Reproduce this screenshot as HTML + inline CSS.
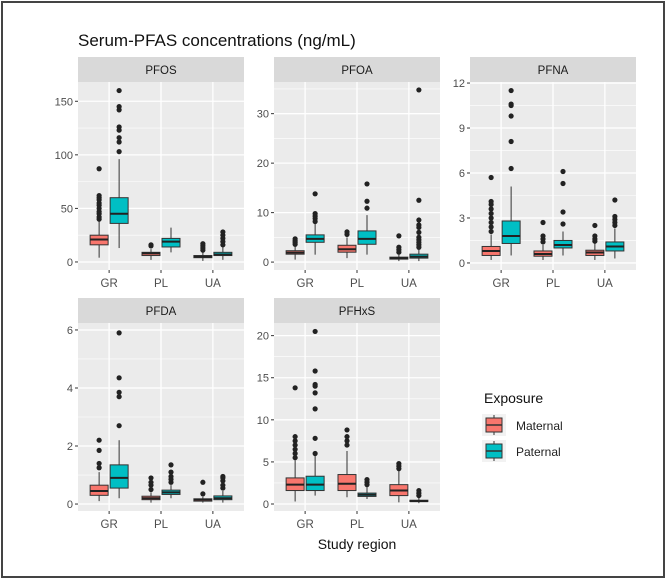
<!DOCTYPE html>
<html><head><meta charset="utf-8">
<style>
html,body{margin:0;padding:0;background:#fff;}
svg{display:block;font-family:"Liberation Sans",Arial,sans-serif;}
</style></head>
<body>
<svg id="chart" width="669" height="583" viewBox="0 0 669 583">
<rect x="2" y="2" width="662" height="575" fill="#fff" stroke="#444" stroke-width="2"/>
<text x="78" y="46" font-size="17" fill="#111">Serum-PFAS concentrations (ng/mL)</text>
<text x="357" y="549" font-size="14" fill="#111" text-anchor="middle">Study region</text>
<g>
<text x="484" y="403" font-size="14" fill="#111">Exposure</text>
<g>
<rect x="482" y="414" width="24" height="22" fill="#f2f2f2"/>
<line x1="494" y1="415" x2="494" y2="435" stroke="#333"/>
<rect x="486" y="418" width="16" height="14" fill="#f8766d" stroke="#333"/>
<line x1="486" y1="425" x2="502" y2="425" stroke="#333" stroke-width="1.5"/>
<text x="516" y="430" font-size="12" fill="#222">Maternal</text>
</g>
<g>
<rect x="482" y="440" width="24" height="22" fill="#f2f2f2"/>
<line x1="494" y1="441" x2="494" y2="461" stroke="#333"/>
<rect x="486" y="444" width="16" height="14" fill="#00bfc4" stroke="#333"/>
<line x1="486" y1="451" x2="502" y2="451" stroke="#333" stroke-width="1.5"/>
<text x="516" y="456" font-size="12" fill="#222">Paternal</text>
</g>
</g>
</svg>
<script>
const categories = ["GR","PL","UA"];
const groups = ["Maternal","Paternal"];
const panelNames = ["PFOS","PFOA","PFNA","PFDA","PFHxS"];
const panelTicks = [[0,50,100,150],[0,10,20,30],[0,3,6,9,12],[0,2,4,6],[0,5,10,15,20]];
const panelDomains = [[-7.5,168],[-1.6,36.4],[-0.47,12.07],[-0.24,6.24],[-0.83,21.5]];
// stats: [lowWhisker, q1, median, q3, highWhisker] per category: [maternal, paternal]
const pfosStats = [[[4,16,21,25,38],[13,36,45,60,96]],[[2,6,8,9,12],[9,14,19,22,32]],[[1,4,5,6,9],[2,6,7,9,14]]];
const pfosOut = [[[40,42,45,47,50,53,55,58,60,62,87],[103,112,116,123,126,142,145,160]],[[15,16],[]],[[11,13,15,17],[16,19,22,25,28]]];
const pfoaStats = [[[0.5,1.6,1.9,2.3,3.3],[1.5,4,4.7,5.5,7.8]],[[0.8,2,2.6,3.4,5],[1.5,3.6,4.7,6.3,9.5]],[[0.2,0.6,0.8,1.0,1.5],[0.2,0.8,1.1,1.6,2.7]]];
const pfoaOut = [[[3.6,4,4.3,4.7],[8.2,8.8,9.3,9.8,13.8]],[[5.6,6.1],[10.9,12.3,15.8]],[[2,2.5,3,5.3],[3,3.5,4,4.5,5,6,7,7.5,8.5,12.5,34.8]]];
const pfnaStats = [[[0.2,0.5,0.8,1.1,1.9],[0.5,1.3,1.8,2.8,5.1]],[[0.2,0.45,0.6,0.8,1.2],[0.5,1.0,1.2,1.5,2.1]],[[0.2,0.5,0.7,0.85,1.3],[0.3,0.8,1.1,1.4,2.3]]];
const pfnaOut = [[[2.1,2.4,2.7,3,3.3,3.6,3.9,4.1,5.7],[6.3,8.1,9.8,10.5,10.6,11.5]],[[1.4,1.6,1.8,2.7],[2.6,3.4,5.3,6.1]],[[1.45,1.6,1.8,2.5],[2.5,2.7,2.9,3.1,4.2]]];
const pfdaStats = [[[0.1,0.3,0.45,0.65,1.1],[0.2,0.55,0.9,1.35,2.2]],[[0.05,0.15,0.2,0.27,0.4],[0.2,0.33,0.4,0.48,0.65]],[[0.05,0.1,0.15,0.18,0.25],[0.05,0.15,0.2,0.28,0.45]]];
const pfdaOut = [[[1.25,1.4,1.85,2.2],[2.7,3.7,3.85,4.35,5.9]],[[0.5,0.65,0.75,0.9],[0.75,0.85,0.95,1.1,1.35]],[[0.35,0.75],[0.55,0.65,0.8,0.9,0.95]]];
const pfhxsStats = [[[0.3,1.6,2.3,3.1,5.2],[1,1.6,2.3,3.3,5.8]],[[0.8,1.6,2.4,3.5,6.3],[0.6,0.9,1.1,1.3,2]],[[0.2,1,1.6,2.3,4],[0.1,0.3,0.35,0.45,0.8]]];
const pfhxsOut = [[[5.5,6,6.5,7,7.5,8,13.8],[6,7.8,11.3,13.2,14,14.2,15.8,20.5]],[[7,7.5,8,8.8],[2.3,2.6,2.9]],[[4.2,4.5,4.8],[1,1.3,1.6]]];

const allStats=[pfosStats,pfoaStats,pfnaStats,pfdaStats,pfhxsStats];
const allOut=[pfosOut,pfoaOut,pfnaOut,pfdaOut,pfhxsOut];
const layout=[[78,82],[274,82],[470,82],[78,323],[274,323]];
const PW=166, PH=188, STRIP=25;
const colors=["#f8766d","#00bfc4"];
const NS="http://www.w3.org/2000/svg";
const svg=document.getElementById("chart");
function mk(tag,attrs,parent){const e=document.createElementNS(NS,tag);for(const k in attrs)e.setAttribute(k,attrs[k]);(parent||svg).appendChild(e);return e;}

panelNames.forEach((name,p)=>{
  const [px,py]=layout[p];
  const [dmin,dmax]=panelDomains[p];
  const y=v=>py+(dmax-v)/(dmax-dmin)*PH;
  const x=i=>px+(i+0.6)*(PW/3.2);
  const g=mk("g",{});
  
  
  const strip=mk("rect",{x:px,y:py-STRIP,width:PW,height:STRIP,fill:"#d9d9d9"},g);
  
  
  const st=mk("text",{x:px+PW/2,y:py-STRIP+17,"font-size":11.5,fill:"#1a1a1a","text-anchor":"middle"},g);
  st.textContent=name;
  
  
  const bg=mk("rect",{x:px,y:py,width:PW,height:PH,fill:"#ebebeb"},g);
  
  
  const ticks=panelTicks[p];
  const step=ticks[1]-ticks[0];
  for(let v=ticks[0]-step/2; v<=dmax; v+=step/2){
    if(v<dmin) continue;
    const major=Math.abs(((v-ticks[0])/step)%1)<1e-6;
    mk("line",{x1:px,x2:px+PW,y1:y(v),y2:y(v),stroke:"#fff","stroke-width":major?1.3:0.6},g);
  }
  ticks.forEach(t=>{
    mk("line",{x1:px-3,x2:px,y1:y(t),y2:y(t),stroke:"#333"},g);
    const tl=mk("text",{x:px-5,y:y(t)+4,"font-size":11,fill:"#4d4d4d","text-anchor":"end"},g);
    tl.textContent=t;
    
    
  });
  categories.forEach((c,i)=>{
    mk("line",{x1:x(i),x2:x(i),y1:py,y2:py+PH,stroke:"#fff","stroke-width":1.3},g);
    mk("line",{x1:x(i),x2:x(i),y1:py+PH,y2:py+PH+3,stroke:"#333"},g);
    const xl=mk("text",{x:x(i),y:py+PH+17,"font-size":11.5,fill:"#4d4d4d","text-anchor":"middle"},g);
    xl.textContent=c;
    
    
  });
  categories.forEach((c,i)=>{
    groups.forEach((gr,k)=>{
      const s=allStats[p][i][k];
      const cx=x(i)+(k===0?-10:10);
      const bw=18;
      const bx=mk("g",{},g);
      
      
      mk("line",{x1:cx,x2:cx,y1:y(s[0]),y2:y(s[4]),stroke:"#333","stroke-width":1},bx);
      mk("rect",{x:cx-bw/2,y:y(s[3]),width:bw,height:Math.max(1,y(s[1])-y(s[3])),fill:colors[k],stroke:"#333","stroke-width":1},bx);
      mk("line",{x1:cx-bw/2,x2:cx+bw/2,y1:y(s[2]),y2:y(s[2]),stroke:"#222","stroke-width":2},bx);
      allOut[p][i][k].forEach(v=>{
        const pt=mk("circle",{cx:cx,cy:y(v),r:2.6,fill:"#222"},bx);
        
        
      });
    });
  });
});
</script>
</body></html>
